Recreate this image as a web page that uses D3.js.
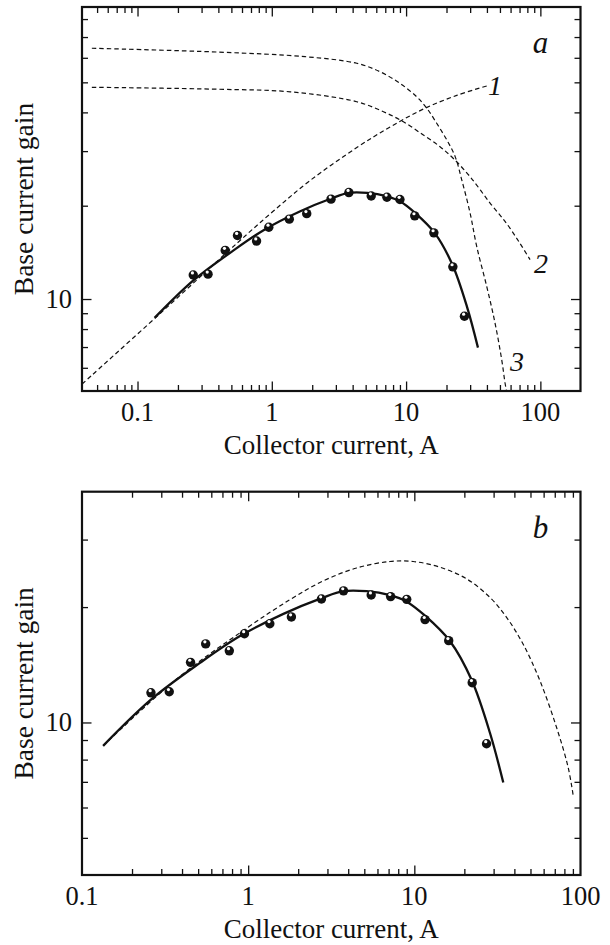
<!DOCTYPE html>
<html>
<head>
<meta charset="utf-8">
<script src="https://cdn.jsdelivr.net/npm/d3@7"></script>
<style>
  body { margin: 0; background: #fff; }
  svg { display: block; }
  svg text { font-family: "Liberation Serif", "DejaVu Serif", "Times New Roman", Times, serif; }
</style>
</head>
<body>
<svg id="chart" width="610" height="945"></svg>
<script>
const FONT = "'Liberation Serif', 'DejaVu Serif', 'Times New Roman', Times, serif";

// measured gain (same points shown in both panels)
const current = [0.26, 0.335, 0.45, 0.555, 0.77, 0.95, 1.35, 1.82, 2.76, 3.75, 5.5, 7.2, 9.0, 11.6, 16.1, 22.3, 27.2];
const gain = [11.95, 12.03, 14.35, 16.03, 15.38, 17.04, 18.1, 18.85, 21.0, 22.05, 21.5, 21.3, 20.95, 18.55, 16.35, 12.7, 8.8];

// solid fit curve
const fitCurrent = [0.134, 0.262, 0.513, 0.893, 1.63, 2.77, 3.73, 5.16, 7.13, 8.99, 11.6, 16.4, 22.1, 28.5, 34.3];
const fitGain = [8.69, 11.5, 14.3, 16.8, 19.2, 21.1, 22.0, 22.0, 21.48, 20.66, 18.99, 16.29, 12.92, 9.40, 6.97];

// panel a dashed curves 1, 2, 3
const c1Current = [0.0387, 0.1474, 0.549, 1.028, 1.929, 4.295, 7.60, 13.45, 23.85, 40.1];
const c1Gain = [5.32, 8.98, 15.12, 19.22, 24.12, 30.8, 35.9, 41.0, 45.4, 48.7];
const c2Current = [0.0457, 0.4, 1.37, 4.29, 6.78, 9.55, 13.45, 17.9, 22.5, 30.0, 42.2, 56.2, 70.6, 83.8];
const c2Gain = [48.2, 47.5, 46.6, 43.3, 40.2, 37.3, 33.8, 31.0, 28.4, 24.8, 20.4, 17.5, 15.1, 13.4];
const c3Current = [0.0457, 0.4, 1.77, 4.29, 6.40, 9.02, 12.0, 14.3, 16.9, 20.1, 23.2, 26.0, 30.0, 33.6, 39.9, 46.0, 51.6, 54.6, 56.0];
const c3Gain = [64.4, 62.6, 60.5, 57.6, 54.1, 49.6, 44.9, 41.2, 36.9, 32.6, 28.8, 24.2, 18.9, 14.75, 10.96, 8.35, 6.35, 5.35, 5.05];

// panel b dashed curve
const dbCurrent = [0.134, 0.371, 0.957, 1.78, 2.83, 4.5, 7.13, 9.85, 14.3, 20.6, 28.5, 35.9, 45.2, 57.0, 71.8, 84.3, 90.4];
const dbGain = [8.69, 12.98, 17.5, 20.9, 23.4, 25.3, 26.3, 26.3, 25.4, 23.7, 21.2, 18.8, 16.0, 12.85, 9.70, 7.63, 6.44];

// curve labels in panel a: [text, current, gain]
const curveLabels = [["1", 40.8, 45.5], ["2", 89.8, 12.15], ["3", 59.5, 5.87]];

const xLabels = [0.1, 1, 10, 100];
const xLabelText = ["0.1", "1", "10", "100"];
const yLabels = [10];
const yLabelText = ["10"];

const svg = d3.select("#chart");
svg.append("rect").attr("width", 610).attr("height", 945).attr("fill", "#fff");

const zip = (xs, ys) => xs.map((x, i) => [x, ys[i]]);

function drawPanel(opt) {
  const { left, right, top, bottom, xDomain, yDomain, id } = opt;
  const x = d3.scaleLog().domain(xDomain).range([left, right]);
  const y = d3.scaleLog().domain(yDomain).range([bottom, top]);
  const g = svg.append("g");

  g.append("clipPath").attr("id", id)
    .append("rect").attr("x", left).attr("y", top)
    .attr("width", right - left).attr("height", bottom - top);

  // ticks, all pointing inward
  const inside = (s, v) => {
    const p = s(v), r = s.range();
    return p > Math.min(r[0], r[1]) + 3 && p < Math.max(r[0], r[1]) - 3;
  };
  const xMinor = x.ticks().filter(v => inside(x, v) && xLabels.indexOf(+v.toPrecision(6)) < 0);
  const xMajor = xLabels.filter(v => inside(x, v));
  const yMinor = y.ticks().filter(v => inside(y, v) && yLabels.indexOf(+v.toPrecision(6)) < 0);
  const yMajor = yLabels.filter(v => inside(y, v));

  const axes = [
    [d3.axisBottom(x), `translate(0,${bottom})`, xMinor, xMajor],
    [d3.axisTop(x), `translate(0,${top})`, xMinor, xMajor],
    [d3.axisLeft(y), `translate(${left},0)`, yMinor, yMajor],
    [d3.axisRight(y), `translate(${right},0)`, yMinor, yMajor]
  ];
  axes.forEach(([ax, tr, minor, major]) => {
    [[minor, -6], [major, -9.5]].forEach(([vals, size]) => {
      const a = g.append("g").attr("transform", tr)
        .call(ax.tickValues(vals).tickSize(size).tickFormat(""));
      a.select(".domain").remove();
      a.selectAll("line").attr("stroke", "#111").attr("stroke-width", 1.3);
    });
  });

  g.append("rect")
    .attr("x", left).attr("y", top)
    .attr("width", right - left).attr("height", bottom - top)
    .attr("fill", "none").attr("stroke", "#111").attr("stroke-width", 2.2);

  // tick labels
  g.selectAll("text.xl").data(xLabels).enter().append("text")
    .attr("x", d => x(d)).attr("y", bottom + 30)
    .attr("text-anchor", "middle").attr("font-family", FONT).attr("font-size", 26.5).attr("fill", "#111")
    .text((d, i) => xLabelText[i]);
  g.selectAll("text.yl").data(yLabels).enter().append("text")
    .attr("x", left - 10).attr("y", d => y(d)).attr("dy", "0.34em")
    .attr("text-anchor", "end").attr("font-family", FONT).attr("font-size", 26.5).attr("fill", "#111")
    .text((d, i) => yLabelText[i]);

  // axis titles
  g.append("text")
    .attr("x", (left + right) / 2).attr("y", bottom + 63)
    .attr("text-anchor", "middle").attr("font-family", FONT).attr("font-size", 27).attr("fill", "#111")
    .text("Collector current, A");
  g.append("text")
    .attr("transform", `translate(33,${(top + bottom) / 2}) rotate(-90)`)
    .attr("text-anchor", "middle").attr("font-family", FONT).attr("font-size", 27.5).attr("fill", "#111")
    .text("Base current gain");

  g.append("text")
    .attr("x", right - 40).attr("y", top + 46)
    .attr("text-anchor", "middle").attr("font-family", FONT).attr("font-size", 31)
    .attr("font-style", "italic").attr("fill", "#111")
    .text(opt.letter);

  const line = d3.line().x(d => x(d[0])).y(d => y(d[1])).curve(d3.curveCatmullRom.alpha(0.5));
  const plot = g.append("g").attr("clip-path", `url(#${id})`);

  opt.dashed.forEach(pts => {
    plot.append("path").datum(pts).attr("d", line)
      .attr("fill", "none").attr("stroke", "#111")
      .attr("stroke-width", 1.2).attr("stroke-dasharray", "4.5,3");
  });

  plot.append("path").datum(zip(fitCurrent, fitGain)).attr("d", line)
    .attr("fill", "none").attr("stroke", "#111").attr("stroke-width", 2.3);

  const dots = plot.selectAll("g.dot").data(zip(current, gain)).enter().append("g")
    .attr("transform", d => `translate(${x(d[0])},${y(d[1])})`);
  dots.append("circle").attr("r", 4.7).attr("fill", "#111");
  dots.append("circle").attr("cx", -0.8).attr("cy", -2.1).attr("r", 1.6).attr("fill", "#fff");

  return { g, x, y };
}

const pa = drawPanel({
  id: "clipA", letter: "a",
  left: 82, right: 580.5, top: 7, bottom: 391,
  xDomain: [0.0386, 199], yDomain: [5.05, 87.5],
  dashed: [zip(c1Current, c1Gain), zip(c2Current, c2Gain), zip(c3Current, c3Gain)]
});

pa.g.selectAll("text.cl").data(curveLabels).enter().append("text")
  .attr("x", d => pa.x(d[1])).attr("y", d => pa.y(d[2]))
  .attr("font-family", FONT).attr("font-size", 28).attr("font-style", "italic").attr("fill", "#111")
  .text(d => d[0]);

drawPanel({
  id: "clipB", letter: "b",
  left: 82, right: 580.5, top: 491.7, bottom: 875,
  xDomain: [0.1, 100], yDomain: [4, 40],
  dashed: [zip(dbCurrent, dbGain)]
});
</script>
</body>
</html>
